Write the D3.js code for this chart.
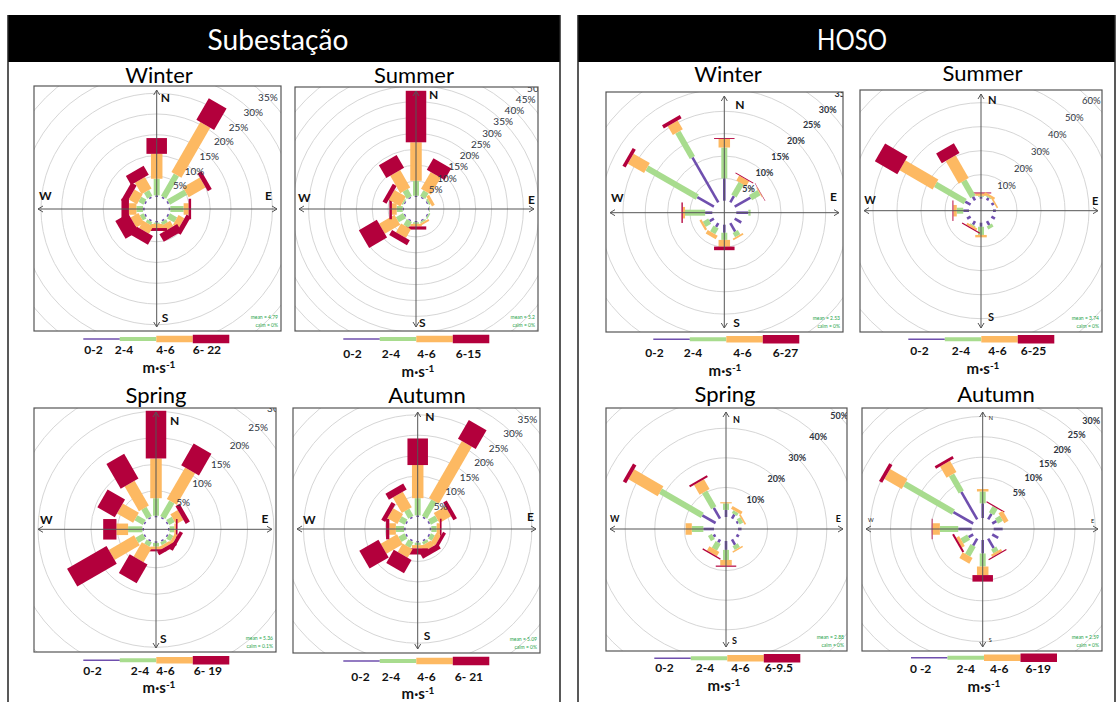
<!DOCTYPE html>
<html>
<head>
<meta charset="utf-8">
<script src="https://cdn.jsdelivr.net/npm/d3@7"></script>
<style>
  body { margin: 0; background: #fff; }
  svg { display: block; font-family: Lato, "Open Sans", sans-serif; }
</style>
</head>
<body>
<svg id="chart" width="1116" height="702"></svg>
<script>
// ---- data -------------------------------------------------------------
// wind directions (degrees from north) and wind-speed classes (m/s)
const directions = [0, 30, 60, 90, 120, 150, 180, 210, 240, 270, 300, 330];
const speedClasses = ["0-2", "2-4", "4-6", ">6"];

// frequency (%) per direction; columns follow speedClasses
const subWinter = [
  [0.4, 4.0, 6.0, 3.8], [0.4, 6.2, 13.9, 6.0], [0.4, 4.8, 4.7, 1.1], [0.4, 3.2, 1.2, 0.6],
  [0.4, 2.0, 1.6, 1.2], [0.4, 0.8, 1.5, 2.1], [0.4, 0.3, 1.0, 0.7], [0.4, 0.8, 2.0, 2.4],
  [0.4, 1.0, 2.2, 3.6], [0.4, 1.6, 1.8, 1.8], [0.4, 1.4, 2.3, 1.5], [0.4, 1.6, 3.2, 2.5]
];
const subSummer = [
  [0.4, 4.7, 12.1, 16.2], [0.4, 2.1, 6.1, 4.2], [0.4, 0.6, 1.0, 0], [0.4, 0.2, 0, 0],
  [0.4, 0.5, 0, 0], [0.4, 0.5, 0.6, 0], [0.4, 0.5, 0.8, 1.0], [0.4, 2.1, 3.2, 1.8],
  [0.4, 2.6, 5.6, 6.5], [0.4, 1.9, 1.5, 0.8], [0.4, 0.5, 4.2, 1.4], [0.4, 2.6, 6.3, 4.7]
];
const subSpring = [
  [0.3, 3.3, 7.5, 9.0], [0.3, 3.4, 6.9, 4.7], [0.3, 1.2, 1.6, 0.9], [0.3, 0.9, 0.3, 0.3],
  [0.3, 0.9, 0.6, 0.7], [0.3, 0.6, 0.6, 0.8], [0.3, 0.7, 0.5, 0.4], [0.3, 0.9, 3.1, 4.1],
  [0.3, 1.6, 5.5, 8.6], [0.3, 2.7, 2.2, 2.5], [0.3, 1.8, 3.5, 3.8], [0.3, 2.0, 5.4, 5.4]
];
const subAutumn = [
  [0.4, 4.2, 8.1, 6.5], [0.4, 4.6, 16.1, 5.3], [0.4, 2.0, 3.3, 1.0], [0.4, 1.3, 0.8, 0.4],
  [0.4, 1.1, 1.3, 0.8], [0.4, 0.7, 1.5, 1.4], [0.4, 0.6, 0.8, 1.5], [0.4, 1.6, 2.4, 3.7],
  [0.4, 1.7, 4.6, 5.4], [0.4, 2.0, 1.6, 0.8], [0.4, 1.6, 2.8, 1.1], [0.4, 2.0, 4.4, 1.7]
];
const hosoWinter = [
  [5.0, 6.9, 1.9, 0.2], [1.6, 3.3, 1.3, 0.2], [4.1, 2.2, 0.2, 0.1], [2.7, 0.5, 0, 0],
  [1.7, 0, 0, 0], [2.2, 1.1, 0.4, 0], [1.8, 1.6, 1.5, 0.8], [1.0, 1.5, 0.9, 0],
  [1.1, 1.4, 0.5, 0], [1.6, 4.5, 0.5, 0.3], [4.3, 13.0, 4.2, 0.8], [11.6, 6.5, 2.3, 0.8]
];
const hosoSummer = [
  [0.8, 0.4, 1.0, 0.4], [1.2, 0.5, 0.9, 0], [1.2, 0, 0.7, 0], [1.2, 0, 0, 0],
  [1.7, 0, 0, 0], [1.9, 1.4, 0, 0], [1.7, 3.4, 1.0, 0], [1.7, 0.5, 0.9, 0.5],
  [1.7, 0, 0, 0], [2.4, 2.7, 1.4, 0.4], [2.6, 14.3, 15.9, 10.8], [1.7, 7.7, 10.9, 4.7]
];
const hosoSpring = [
  [2.4, 2.2, 0.4, 0], [1.6, 1.1, 1.1, 0], [0.7, 1.4, 0.6, 0], [1.2, 0, 0, 0],
  [1.0, 0, 0, 0], [2.1, 1.5, 0.5, 0], [3.0, 3.4, 1.9, 0.4], [1.2, 2.6, 1.7, 0.4],
  [0.9, 1.5, 0, 0], [3.6, 3.9, 2.1, 0], [5.2, 16.3, 11.4, 1.3], [4.2, 6.2, 3.8, 0.7]
];
const hosoAutumn = [
  [3.6, 2.9, 0.6, 0], [1.6, 1.8, 0, 0.3], [1.2, 1.4, 1.2, 0], [2.2, 0, 0, 0],
  [1.7, 0, 0, 0], [2.7, 1.1, 0.6, 0.3], [3.3, 3.2, 2.1, 1.6], [2.0, 2.7, 1.6, 0],
  [1.3, 1.9, 0.8, 0.5], [3.3, 4.5, 1.8, 0.2], [5.6, 13.8, 4.9, 0.9], [7.8, 4.8, 3.2, 0.7]
];

// grid circles (%)
const ringsStep5 = [5, 10, 15, 20, 25, 30, 35, 40, 45, 50];
const ringsStep10 = [10, 20, 30, 40, 50, 60, 70];

// legend labels per rose
const legendSubWinter = ["0-2", "2-4", "4-6", "6- 22"];
const legendSubSummer = ["0-2", "2-4", "4-6", "6-15"];
const legendSubSpring = ["0-2", "2-4", "4-6", "6- 19"];
const legendSubAutumn = ["0-2", "2-4", "4-6", "6- 21"];
const legendHosoWinter = ["0-2", "2-4", "4-6", "6-27"];
const legendHosoSummer = ["0-2", "2-4", "4-6", "6-25"];
const legendHosoSpring = ["0-2", "2-4", "4-6", "6-9.5"];
const legendHosoAutumn = ["0 -2", "2-4", "4-6", "6-19"];

// mean speed (m/s) and calm share per rose
const meanSpeeds = ["4.79", "5.2", "5.36", "5.09", "2.53", "3.74", "2.88", "2.59"];
const calmShares = ["0%", "0%", "0.1%", "0%", "0%", "0%", "0%", "0%"];

// ---- styles -----------------------------------------------------------
const binColors = ["#6f4fae", "#a8dc8e", "#fdb962", "#b3003c"];
const binWidths = [2.6, 6, 11.5, 20.5];
const legendWidths = [1.6, 4, 6.5, 8.5];

const svg = d3.select("#chart");

// ---- panels -----------------------------------------------------------
function panel(x0, x1, label, labelX, labelLen) {
  svg.append("rect").attr("x", x0).attr("y", 15).attr("width", x1 - x0).attr("height", 47)
    .attr("fill", "#000");
  svg.append("text").attr("x", labelX).attr("y", 50).attr("text-anchor", "middle")
    .attr("fill", "#fff").attr("font-size", 28)
    .attr("textLength", labelLen).attr("lengthAdjust", "spacingAndGlyphs").text(label);
  [x0, x1].forEach(x => svg.append("line").attr("x1", x).attr("x2", x)
    .attr("y1", 15).attr("y2", 702).attr("stroke", "#222").attr("stroke-width", 1.5));
}
panel(8, 560, "Subestação", 278, 141);
panel(578, 1115, "HOSO", 852, 70);

// ---- wind rose --------------------------------------------------------
let clipId = 0;
function rose(o) {
  const [x0, y0, x1, y1] = o.box;
  const g = svg.append("g");
  const id = "clip" + (clipId++);
  svg.append("clipPath").attr("id", id).append("rect")
    .attr("x", x0).attr("y", y0).attr("width", x1 - x0).attr("height", y1 - y0);

  // radius for a cumulative frequency (%), leaving a hollow centre
  const r = d3.scaleLinear().domain([0, 1]).range([o.hole, o.hole + o.k]);
  const rg = p => r(p) + o.gridShift;
  const inner = g.append("g").attr("clip-path", `url(#${id})`);

  // grid circles
  inner.selectAll("circle.grid").data(o.rings).join("circle")
    .attr("cx", o.cx).attr("cy", o.cy).attr("r", d => rg(d))
    .attr("fill", "none").attr("stroke", "#d6d6d6").attr("stroke-width", 1);

  // axes with open arrow heads
  const ax = g.append("g").attr("stroke", "#555").attr("stroke-width", 1).attr("fill", "none");
  const ex0 = x0 + 4, ex1 = x1 - 4, ey0 = y0 + 4, ey1 = y1 - 4, a = 5;
  ax.append("line").attr("x1", ex0).attr("x2", ex1).attr("y1", o.cy).attr("y2", o.cy);
  ax.append("line").attr("x1", o.cx).attr("x2", o.cx).attr("y1", ey0).attr("y2", ey1);
  ax.append("path").attr("d",
    `M${ex0 + a},${o.cy - a * 0.6}L${ex0},${o.cy}L${ex0 + a},${o.cy + a * 0.6}` +
    `M${ex1 - a},${o.cy - a * 0.6}L${ex1},${o.cy}L${ex1 - a},${o.cy + a * 0.6}` +
    `M${o.cx - a * 0.6},${ey0 + a}L${o.cx},${ey0}L${o.cx + a * 0.6},${ey0 + a}` +
    `M${o.cx - a * 0.6},${ey1 - a}L${o.cx},${ey1}L${o.cx + a * 0.6},${ey1 - a}`);

  // stacked paddles, one group per direction
  const dirs = inner.selectAll("g.dir").data(o.data.map((row, i) => ({ dir: directions[i], row })))
    .join("g").attr("transform", d => `translate(${o.cx},${o.cy}) rotate(${d.dir})`);
  dirs.each(function (d) {
    const segs = [];
    let acc = 0;
    d.row.forEach((v, b) => { if (v > 0) segs.push({ b, from: acc, to: acc + v }); acc += v; });
    d3.select(this).selectAll("rect").data(segs).join("rect")
      .attr("x", s => -binWidths[s.b] / 2).attr("width", s => binWidths[s.b])
      .attr("y", s => -r(s.to)).attr("height", s => r(s.to) - r(s.from))
      .attr("fill", s => binColors[s.b]);
  });

  // ring labels along the north-east diagonal (only those anchored inside the frame)
  const s45 = Math.SQRT1_2;
  const shown = o.rings.filter(d => o.cx + rg(d) * s45 < x1 + 2 && o.cy - rg(d) * s45 > y0 - 2);
  inner.selectAll("text.ring").data(shown).join("text")
    .attr("x", d => o.cx + rg(d) * s45)
    .attr("y", d => o.cy - rg(d) * s45)
    .attr("dy", "0.35em").attr("text-anchor", "middle")
    .attr("font-size", o.ringFont).attr("font-weight", o.ringBold ? 700 : 400)
    .attr("fill", "#2e3440").text(d => d + "%");

  // frame
  g.append("rect").attr("x", x0).attr("y", y0).attr("width", x1 - x0).attr("height", y1 - y0)
    .attr("fill", "none").attr("stroke", "#555").attr("stroke-width", 1.2);

  // compass letters
  const c = o.compass;
  const cl = g.append("g").attr("font-weight", c.bold ? 700 : 400).attr("font-size", c.size)
    .attr("fill", "#111");
  cl.append("text").attr("x", o.cx + c.n[0]).attr("y", y0 + c.n[1]).text("N");
  cl.append("text").attr("x", o.cx + c.s[0]).attr("y", y1 - c.s[1]).text("S");
  cl.append("text").attr("x", x0 + c.w[0]).attr("y", o.cy + c.w[1]).text("W");
  cl.append("text").attr("x", x1 + c.e[0]).attr("y", o.cy + c.e[1]).text("E");

  // mean / calm
  const mc = g.append("g").attr("font-size", 5).attr("fill", "#1fa44a").attr("text-anchor", "end");
  mc.append("text").attr("x", x1 - 3).attr("y", y1 - 12).text("mean = " + o.mean);
  mc.append("text").attr("x", x1 - 3).attr("y", y1 - 4).text("calm = " + o.calm);

  // title
  g.append("text").attr("x", o.titleX).attr("y", o.titleY).attr("text-anchor", "middle")
    .attr("font-size", 22).attr("fill", "#000").text(o.title);

  // speed legend
  const seg = 36.5;
  const lg = g.append("g");
  lg.selectAll("line").data(binColors).join("line")
    .attr("x1", (col, i) => o.legendX + i * seg).attr("x2", (col, i) => o.legendX + (i + 1) * seg)
    .attr("y1", o.legendY).attr("y2", o.legendY)
    .attr("stroke", col => col).attr("stroke-width", (col, i) => legendWidths[i]);
  lg.selectAll("text").data(o.legend).join("text")
    .attr("x", (t, i) => o.legendX + i * seg + o.legendDx[i]).attr("y", o.legendTextY)
    .attr("font-size", 12).attr("font-weight", 700).attr("fill", "#111").text(t => t);

  // unit
  const u = g.append("text").attr("x", o.unitX).attr("y", o.unitY).attr("text-anchor", "middle")
    .attr("font-size", 15).attr("font-weight", 700).attr("fill", "#111");
  u.append("tspan").text("m·s");
  u.append("tspan").attr("dy", -5).attr("font-size", 10).text("-1");
}

const bigCompass = (n, s, w, e) => ({ size: 12, bold: true, n, s, w, e });

const roses = [
  { title: "Winter", titleX: 159, titleY: 83, box: [34, 86, 281, 331], cx: 156.7, cy: 209,
    hole: 12, k: 4.15, gridShift: 0, data: subWinter, rings: ringsStep5, ringFont: 10, ringBold: false,
    compass: bigCompass([4, 15.7], [5, 9], [5, -9], [-16, -9]),
    legend: legendSubWinter, legendX: 83.3, legendY: 339, legendTextY: 354, legendDx: [1, -5, 0, 0],
    unitX: 159, unitY: 373, mean: meanSpeeds[0], calm: calmShares[0] },
  { title: "Summer", titleX: 414, titleY: 83, box: [295, 87, 538, 331], cx: 416, cy: 209,
    hole: 12, k: 3.18, gridShift: 0, data: subSummer, rings: ringsStep5, ringFont: 10, ringBold: false,
    compass: bigCompass([13, 12], [3, 4], [3, -7], [-10, -5]),
    legend: legendSubSummer, legendX: 343.3, legendY: 339, legendTextY: 358, legendDx: [0, 2, 1, 3],
    unitX: 418, unitY: 377, mean: meanSpeeds[1], calm: calmShares[1] },
  { title: "Spring", titleX: 156, titleY: 403, box: [34, 408, 276, 652], cx: 156, cy: 529.3,
    hole: 12, k: 5.3, gridShift: 0, data: subSpring, rings: ringsStep5, ringFont: 10, ringBold: false,
    compass: bigCompass([14, 17], [4, 9], [6, -5], [-14.5, -6]),
    legend: legendSubSpring, legendX: 83.3, legendY: 660.3, legendTextY: 674.5, legendDx: [0, 11, 0, 1],
    unitX: 159, unitY: 693, mean: meanSpeeds[2], calm: calmShares[2] },
  { title: "Autumn", titleX: 427, titleY: 403, box: [293, 408, 540, 653], cx: 417.7, cy: 529,
    hole: 12, k: 4.09, gridShift: 0, data: subAutumn, rings: ringsStep5, ringFont: 10, ringBold: false,
    compass: bigCompass([7.5, 13], [6, 13], [10, -5], [-13, -8]),
    legend: legendSubAutumn, legendX: 343.3, legendY: 661, legendTextY: 680.5, legendDx: [8, 2, 1, 2],
    unitX: 418, unitY: 699, mean: meanSpeeds[3], calm: calmShares[3] },
  { title: "Winter", titleX: 728, titleY: 82, box: [606, 92, 843, 332], cx: 724.3, cy: 212.7,
    hole: 12, k: 4.47, gridShift: 0, data: hosoWinter, rings: ringsStep5, ringFont: 9, ringBold: true,
    compass: bigCompass([11, 16.6], [9, 5], [5, -11], [-13, -12]),
    legend: legendHosoWinter, legendX: 653.3, legendY: 339.3, legendTextY: 356.5, legendDx: [-8, -6, 7, 10],
    unitX: 725, unitY: 375.5, mean: meanSpeeds[4], calm: calmShares[4] },
  { title: "Summer", titleX: 982.5, titleY: 81, box: [860, 90, 1102, 332], cx: 981, cy: 210.7,
    hole: 12, k: 2.4, gridShift: 0, data: hosoSummer, rings: ringsStep10, ringFont: 9.5, ringBold: false,
    compass: { size: 11, bold: true, n: [7, 14], s: [7, 11], w: [4.3, -7], e: [-10, -5.7] },
    legend: legendHosoSummer, legendX: 908.3, legendY: 339.3, legendTextY: 354.5, legendDx: [2, 7, 7, 3],
    unitX: 983, unitY: 373.5, mean: meanSpeeds[5], calm: calmShares[5] },
  { title: "Spring", titleX: 725, titleY: 402, box: [606, 408, 847, 651], cx: 726, cy: 529,
    hole: 12, k: 2.96, gridShift: 0, data: hosoSpring, rings: ringsStep10, ringFont: 9, ringBold: true,
    compass: { size: 9, bold: true, n: [7, 15], s: [6, 7], w: [4, -7], e: [-11.3, -6.7] },
    legend: legendHosoSpring, legendX: 654.3, legendY: 658.3, legendTextY: 672, legendDx: [1, 5, 4, 1],
    unitX: 724, unitY: 691, mean: meanSpeeds[6], calm: calmShares[6] },
  { title: "Autumn", titleX: 996, titleY: 402, box: [862, 408, 1102, 651], cx: 982.7, cy: 529,
    hole: 11, k: 4.08, gridShift: 20, data: hosoAutumn, rings: ringsStep5, ringFont: 9, ringBold: true,
    compass: { size: 5.5, bold: false, n: [6, 12], s: [6, 9], w: [6, -7], e: [-11, -6.3] },
    legend: legendHosoAutumn, legendX: 911, legendY: 657.7, legendTextY: 673, legendDx: [-1, 9, 6, 5],
    unitX: 984, unitY: 692, mean: meanSpeeds[7], calm: calmShares[7] }
];
roses.forEach(rose);
</script>
</body>
</html>
